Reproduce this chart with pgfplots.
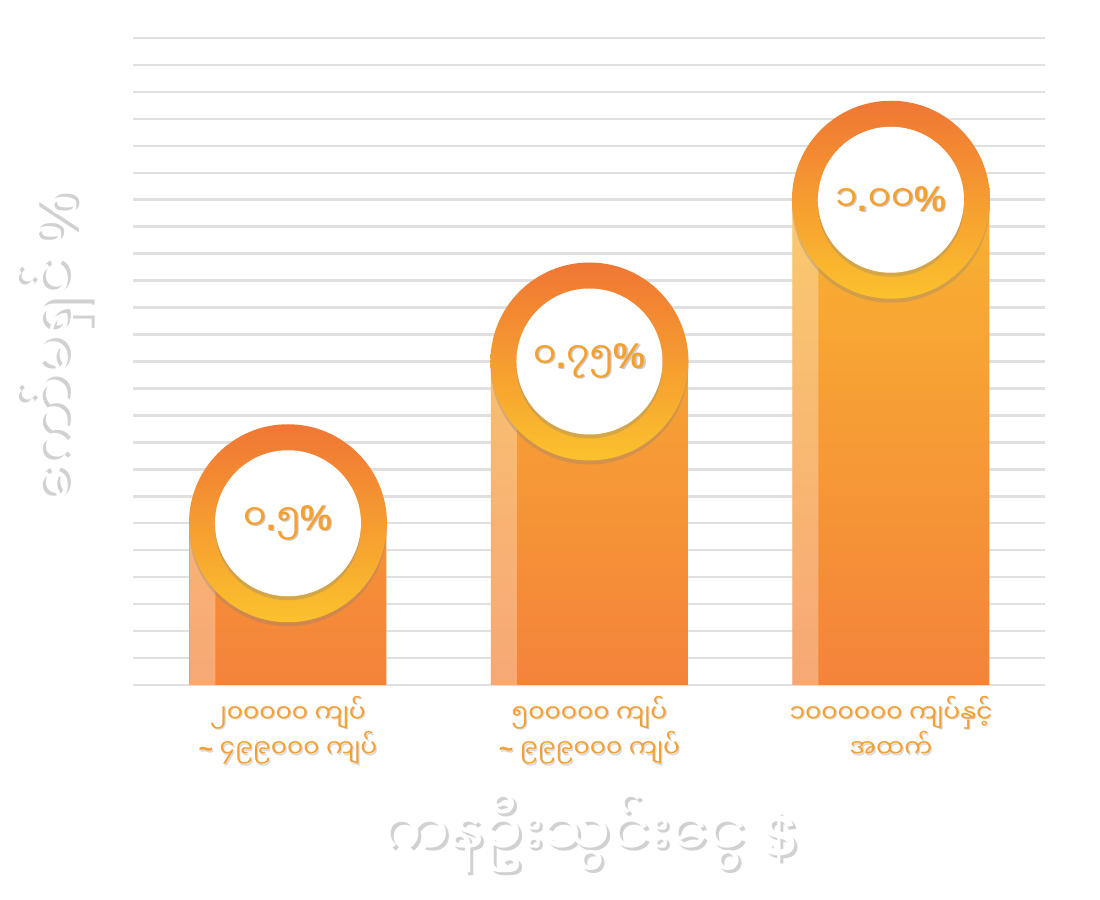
\documentclass[border=0pt]{standalone}
\usepackage{pgfplots}
\pgfplotsset{compat=1.18}
\usepackage{pgfplotstable}
\usepackage{fontspec}
\usetikzlibrary{shadows}
\newfontfamily\my[Script=Myanmar]{Noto Sans Myanmar UI}
\newfontfamily\lat{Liberation Sans}
\definecolor{ringTop}{HTML}{F07634}
\definecolor{ringBot}{HTML}{FBC22D}
\definecolor{barTop}{HTML}{F8B231}
\definecolor{barBot}{HTML}{F4833A}
\definecolor{txt}{HTML}{F5A030}
\definecolor{gridc}{HTML}{E0E0E0}
\newcommand\shw[3]{\makebox[0pt][l]{\kern#2\raisebox{-#2}{\color{#1}#3}}#3}
\newcommand\pt{{\lat\bfseries.}}
\pgfplotstableread{
x v lab
0 0.5 ၀\pt၅
1 0.75 ၀\pt၇၅
2 1.0 ၁\pt၀၀
}\data
\begin{document}
\begin{tikzpicture}
\useasboundingbox (0,0) rectangle (1100bp,900bp);
\begin{axis}[
  at={(133bp,215bp)}, anchor=south west,
  scale only axis, width=912bp, height=647bp,
  xmin=-0.514, xmax=2.511, ymin=0.25, ymax=1.25,
  axis line style={draw=none}, tick style={draw=none},
  ytick={0.25,0.291667,0.333333,0.375,0.416667,0.458333,0.5,0.541667,0.583333,0.625,0.666667,0.708333,0.75,0.791667,0.833333,0.875,0.916667,0.958333,1.0,1.041667,1.083333,1.125,1.166667,1.208333,1.25},
  yticklabel=\empty,
  ymajorgrids, major grid style={draw=gridc, line width=2.5bp},
  xtick={0,1,2},
  xticklabels={{\shw{black!15}{1.2pt}{၂၀၀၀၀၀ ကျပ်}}\\{\shw{black!15}{1.2pt}{{\lat\bfseries\textasciitilde} ၄၉၉၀၀၀ ကျပ်}},
               {\shw{black!15}{1.2pt}{၅၀၀၀၀၀ ကျပ်}}\\{\shw{black!15}{1.2pt}{{\lat\bfseries\textasciitilde} ၉၉၉၀၀၀ ကျပ်}},
               {\shw{black!15}{1.2pt}{၁၀၀၀၀၀၀ ကျပ်နှင့်}}\\{\shw{black!15}{1.2pt}{အထက်}}},
  xticklabel style={align=center, text=txt, font=\my\fontsize{25}{26}\selectfont, yshift=-8bp},
  xlabel={\color{white}\shw{black!18}{3pt}{ကနဦးသွင်းငွေ {\lat\bfseries\$}}},
  xlabel style={at={(axis description cs:0.5,0)}, anchor=center, yshift=-150bp, font=\my\fontsize{60}{64}\selectfont},
  ylabel={\color{white}\shw{black!18}{3pt}{ကော်မရှင် {\lat\%}}},
  ylabel style={at={(axis description cs:0,0.5)}, anchor=center, xshift=12bp, yshift=78bp, font=\my\fontsize{58}{62}\selectfont},
]
\addplot[ybar, bar width=197bp, bar shift=0pt, draw=none, top color=barTop, bottom color=barBot] table[x=x,y=v]{\data};
\addplot[ybar, bar width=26bp, bar shift=-85.5bp, draw=none, fill=white, fill opacity=0.3] table[x=x,y=v]{\data};
\addplot[draw=none, mark=none, nodes near coords={\mbox{}},
  every node near coord/.style={anchor=center, circle, inner sep=0pt, minimum size=198bp, top color=ringTop, bottom color=ringBot, drop shadow={shadow xshift=0bp, shadow yshift=-4bp, opacity=0.3}}]
  table[x=x,y=v]{\data};
\addplot[draw=none, mark=none, point meta=explicit symbolic,
  nodes near coords={\shw{black!20}{1.2pt}{\pgfplotspointmeta{\lat\bfseries\%}}},
  every node near coord/.style={anchor=center, circle, inner sep=0pt, minimum size=146bp, fill=white, text=txt, font=\my\fontsize{36}{40}\selectfont, drop shadow={shadow xshift=0bp, shadow yshift=-4bp, opacity=0.3}}]
  table[x=x,y=v,meta=lab]{\data};
\end{axis}
\end{tikzpicture}
\end{document}
